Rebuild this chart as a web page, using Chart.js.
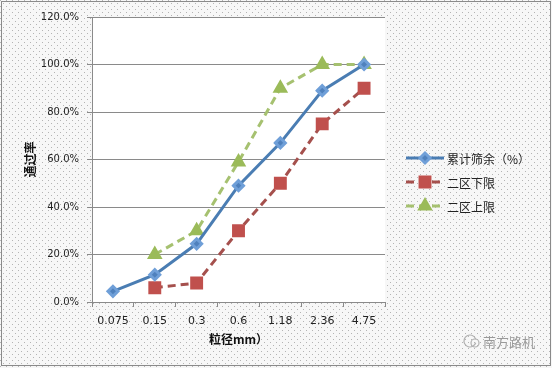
<!DOCTYPE html>
<html>
<head>
<meta charset="utf-8">
<script src="https://cdn.jsdelivr.net/npm/chart.js@4/dist/chart.umd.min.js"></script>
<style>
  body { margin: 0; background: #fff; }
  canvas { display: block; }
</style>
</head>
<body>
<canvas id="my-chart" width="552" height="368"></canvas>
<script>
// sieve sizes (mm)
var categories = ["0.075", "0.15", "0.3", "0.6", "1.18", "2.36", "4.75"];
// passing percentage
var sieveValues = [4.5, 11.5, 24.5, 49, 67, 89, 100];
var zoneLower = [null, 6, 8, 30, 50, 75, 90];
var zoneUpper = [null, 20, 30, 59, 90, 100, 100];
var seriesNames = ["累计筛余（%）", "二区下限", "二区上限"];
var yTicks = [0, 20, 40, 60, 80, 100, 120];

var cjk = "'Noto Sans CJK SC', 'Noto Sans', sans-serif";
var num = "'DejaVu Sans', sans-serif";

// dotted page background + white plot area + border
var backgroundPlugin = {
  id: "backgroundPlugin",
  beforeDraw: function (chart) {
    var ctx = chart.ctx;
    var p = document.createElement("canvas");
    p.width = 6;
    p.height = 6;
    var pc = p.getContext("2d");
    pc.fillStyle = "#f7f7f7";
    pc.fillRect(0, 0, 6, 6);
    pc.fillStyle = "#b4b4b4";
    pc.fillRect(0, 0, 1, 1);
    pc.fillRect(3, 3, 1, 1);
    ctx.save();
    ctx.fillStyle = ctx.createPattern(p, "repeat");
    ctx.fillRect(0, 0, chart.width, chart.height);
    var a = chart.chartArea;
    ctx.fillStyle = "#ffffff";
    ctx.fillRect(a.left, a.top, a.right - a.left, a.bottom - a.top);
    ctx.strokeStyle = "#8a8a8a";
    ctx.lineWidth = 1;
    ctx.strokeRect(1.5, 1.5, chart.width - 3, chart.height - 4);
    ctx.restore();
  },
};

// legend on the right and the watermark
var legendPlugin = {
  id: "legendPlugin",
  afterDraw: function (chart) {
    var ctx = chart.ctx;
    var x0 = 406, x1 = 444;
    var ys = [158, 182, 206];
    chart.data.datasets.forEach(function (ds, i) {
      var y = ys[i];
      ctx.save();
      ctx.strokeStyle = ds.borderColor;
      ctx.lineWidth = 3;
      ctx.setLineDash(ds.borderDash || []);
      ctx.beginPath();
      ctx.moveTo(x0, y);
      ctx.lineTo(x1, y);
      ctx.stroke();
      ctx.setLineDash([]);
      ctx.fillStyle = ds.pointBackgroundColor;
      ctx.strokeStyle = ds.pointBorderColor;
      Chart.helpers.drawPoint(ctx, {
        pointStyle: ds.pointStyle,
        radius: ds.pointRadius,
        borderWidth: 1,
        rotation: 0,
      }, (x0 + x1) / 2, y);
      ctx.fillStyle = "#222";
      ctx.font = "12px " + cjk;
      ctx.textBaseline = "middle";
      ctx.fillText(ds.label, 447, y + 1);
      ctx.restore();
    });

    // watermark
    ctx.save();
    ctx.strokeStyle = "#b0b0b0";
    ctx.lineWidth = 1.2;
    ctx.beginPath();
    ctx.arc(470, 341, 6, 0.3, Math.PI * 1.9);
    ctx.stroke();
    ctx.beginPath();
    ctx.arc(475, 343, 4, 0, Math.PI * 2);
    ctx.stroke();
    ctx.fillStyle = "#9a9a9a";
    ctx.font = "13px " + cjk;
    ctx.textBaseline = "middle";
    ctx.fillText("南方路机", 483, 342);
    ctx.restore();
  },
};

function renderChart() {
  var ctx = document.getElementById("my-chart").getContext("2d");
  var myChart = new Chart(ctx, {
    type: "line",
    data: {
      labels: categories,
      datasets: [
        {
          label: seriesNames[0],
          data: sieveValues,
          borderColor: "#4a7db3",
          borderWidth: 3,
          pointStyle: "rectRot",
          pointRadius: 5,
          pointBackgroundColor: "#4f81bd",
          pointBorderColor: "#6f9fd8",
          tension: 0,
        },
        {
          label: seriesNames[1],
          data: zoneLower,
          borderColor: "#a5504d",
          borderWidth: 3,
          borderDash: [8, 5],
          pointStyle: "rect",
          pointRadius: 7,
          pointBackgroundColor: "#c0504d",
          pointBorderColor: "#c0504d",
          tension: 0,
        },
        {
          label: seriesNames[2],
          data: zoneUpper,
          borderColor: "#a6c170",
          borderWidth: 3,
          borderDash: [8, 5],
          pointStyle: "triangle",
          pointRadius: 6,
          pointBackgroundColor: "#9bbb59",
          pointBorderColor: "#9bbb59",
          tension: 0,
        },
      ],
    },
    options: {
      responsive: false,
      animation: false,
      layout: { padding: { top: 17, right: 167, left: 0, bottom: 0 } },
      plugins: {
        legend: { display: false },
        tooltip: { enabled: false },
      },
      scales: {
        x: {
          offset: true,
          grid: {
            offset: true,
            drawOnChartArea: false,
            drawTicks: true,
            tickLength: 5,
            color: "#8a8a8a",
          },
          border: { color: "#8a8a8a", width: 1 },
          ticks: {
            color: "#222",
            font: { family: num, size: 11 },
            padding: 8,
            maxRotation: 0,
          },
          title: {
            display: true,
            text: "粒径mm）",
            color: "#111",
            font: { family: cjk, size: 12, weight: "bold" },
            padding: { top: 0, bottom: 21 },
          },
          afterFit: function (s) { s.height = 66; },
        },
        y: {
          min: 0,
          max: 120,
          afterBuildTicks: function (s) {
            s.ticks = yTicks.map(function (v) { return { value: v }; });
          },
          grid: {
            color: "#8a8a8a",
            tickLength: 5,
          },
          border: { color: "#8a8a8a", width: 1 },
          ticks: {
            color: "#222",
            font: { family: num, size: 10 },
            padding: 8,
            callback: function (v) { return v.toFixed(1) + "%"; },
          },
          title: {
            display: true,
            text: "通过率",
            color: "#111",
            font: { family: cjk, size: 12, weight: "bold" },
            padding: { top: 23, bottom: 0 },
          },
          afterFit: function (s) { s.width = 92; },
        },
      },
    },
    plugins: [backgroundPlugin, legendPlugin],
  });
}

renderChart();
</script>
</body>
</html>
